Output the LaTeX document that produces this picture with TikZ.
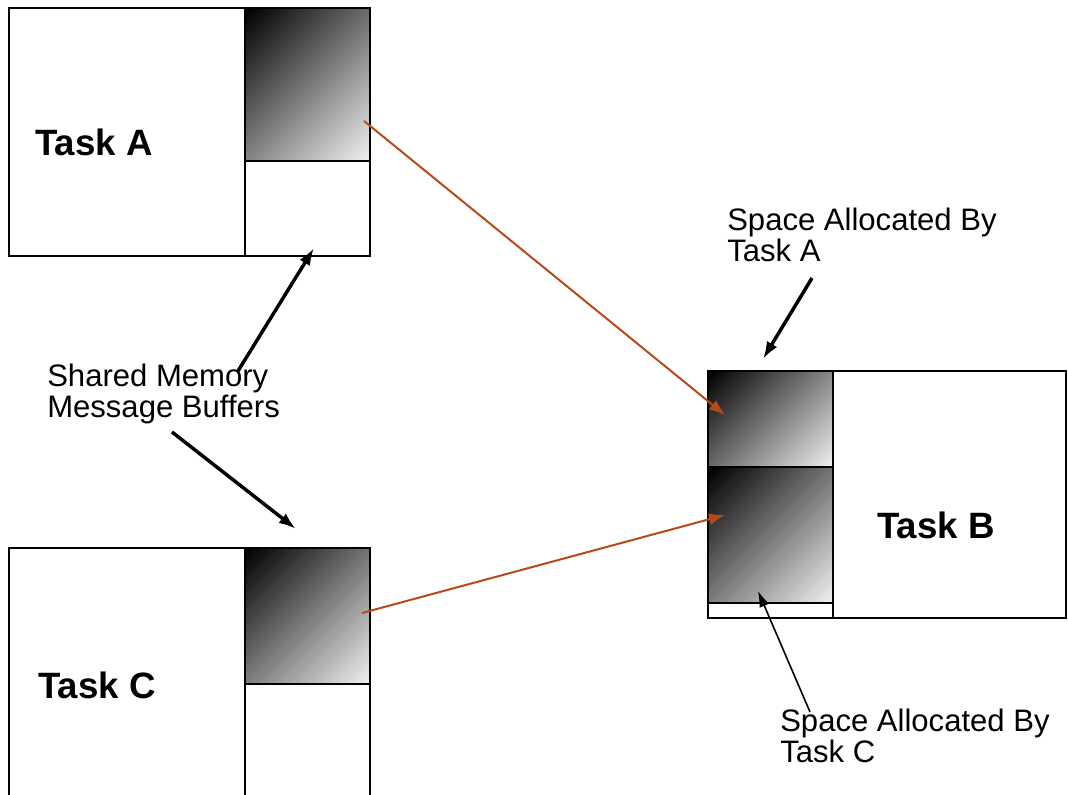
\documentclass[tikz,border=0pt]{standalone}
\usepackage{fontspec}
\setmainfont{Liberation Sans}
\usetikzlibrary{arrows.meta,fit}

\definecolor{linkorange}{RGB}{184,74,26}

% linear ramp that still reaches both ends after a 45 degree turn
\pgfdeclareverticalshading{buffershade}{100bp}{%
  color(0bp)=(black!6); color(15bp)=(black!6);
  color(85bp)=(black); color(100bp)=(black)}

\tikzset{
  box/.style={draw=black, line width=1.5pt, inner sep=0pt, outer sep=0pt},
  buffer/.style={box, shade, shading=buffershade, shading angle=45},
  tasklabel/.style={font=\fontsize{27.5pt}{30pt}\selectfont\bfseries, anchor=base west, inner sep=0pt},
  note/.style={font=\fontsize{23.3pt}{23.25pt}\selectfont, align=left, anchor=base west, inner sep=0pt},
  pointer/.style={line width=2.6pt, -{Latex[length=13pt,width=9pt]}},
  thinpointer/.style={line width=1.2pt, -{Latex[length=12pt,width=8pt]}},
  link/.style={draw=linkorange, line width=1.5pt, -{Latex[length=12pt,width=9pt]}},
}

\begin{document}
\begin{tikzpicture}[x=0.75pt, y=-0.75pt]
  \clip (0,0) rectangle (1068,795);
  \fill[white] (0,0) rectangle (1068,795);

  % Task A with its message buffer
  \node[box, fit={(9,8) (370,256)}] (taskA) {};
  \node[box, fit={(245,161) (370,256)}] (freeA) {};
  \node[buffer, fit={(245,8) (370,161)}] (bufA) {};
  \node[tasklabel] (labelA) at (35,156) {Task A};

  % Task C with its message buffer (runs off the bottom edge)
  \node[box, fit={(9,548) (370,810)}] (taskC) {};
  \node[box, fit={(245,684) (370,810)}] (freeC) {};
  \node[buffer, fit={(245,548) (370,684)}] (bufC) {};
  \node[tasklabel] (labelC) at (38,698) {Task C};

  % Task B holding the space allocated by A and C
  \node[box, fit={(708,371) (1066,618)}] (taskB) {};
  \node[box, fit={(708,371) (833,618)}] (colB) {};
  \node[box, fit={(708,603) (833,618)}] (freeB) {};
  \node[buffer, fit={(708,371) (833,467)}] (slotA) {};
  \node[buffer, fit={(708,467) (833,603)}] (slotC) {};
  \node[tasklabel] (labelB) at (877,538) {Task B};

  % annotations (placed by the baseline of their last line)
  \node[note] (shared) at (47,417) {Shared Memory\\Message Buffers};
  \node[note] (spaceA) at (727,262) {Space Allocated By\\Task A};
  \node[note] (spaceC) at (780,762) {Space Allocated By\\Task C};

  % end points of the connectors
  \coordinate (fromA) at (364,121);
  \coordinate (toA) at (725,415);
  \coordinate (fromC) at (362,613);
  \coordinate (toC) at (725,515);
  \coordinate (sharedUp) at (238,371);
  \coordinate (sharedUpTip) at (314,248);
  \coordinate (sharedDown) at (172,432);
  \coordinate (sharedDownTip) at (296,529);
  \coordinate (spaceATail) at (812,278);
  \coordinate (spaceATip) at (763,359);
  \coordinate (spaceCTail) at (810,712);
  \coordinate (spaceCTip) at (758,591);

  % buffers mapped into Task B
  \draw[link] (fromA) -- (toA);
  \draw[link] (fromC) -- (toC);

  % label pointers
  \draw[pointer] (sharedUp) -- (sharedUpTip);
  \draw[pointer] (sharedDown) -- (sharedDownTip);
  \draw[pointer] (spaceATail) -- (spaceATip);
  \draw[thinpointer] (spaceCTail) -- (spaceCTip);
\end{tikzpicture}
\end{document}
